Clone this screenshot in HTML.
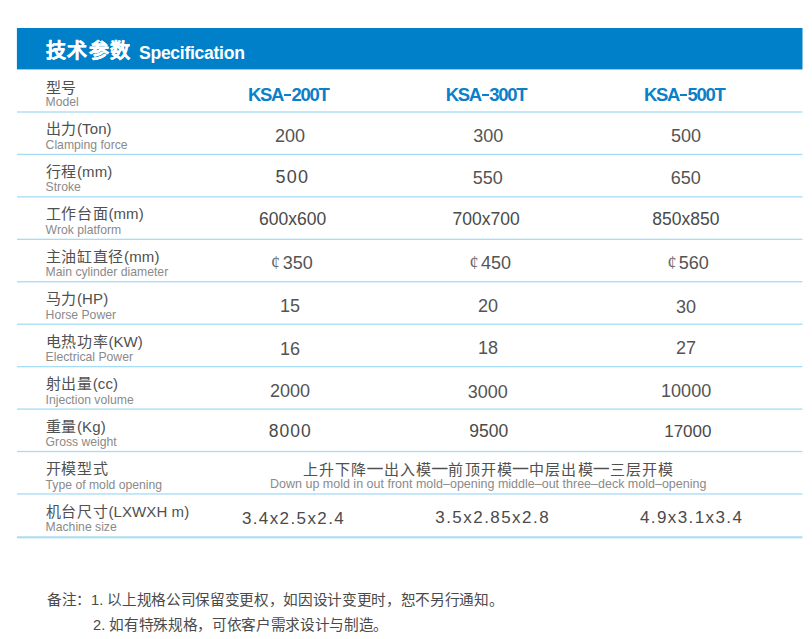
<!DOCTYPE html>
<html lang="zh-CN"><head><meta charset="utf-8">
<style>
*{margin:0;padding:0;box-sizing:border-box}
html,body{width:812px;height:639px;background:#fff;overflow:hidden}
body{position:relative;font-family:"Liberation Sans",sans-serif;color:#444}
.a{position:absolute;white-space:nowrap}
.hd{position:absolute;left:17px;top:28px;width:785.5px;height:41.6px;background:#0080c8}
.t1{font-size:20px;letter-spacing:1.5px;font-weight:bold;color:#fff;line-height:24px;-webkit-text-stroke:0.3px #fff}
.t2{font-size:17.6px;letter-spacing:-0.3px;font-weight:bold;color:#fff;line-height:20px}
.lines{position:absolute;left:0;top:0}
.c{font-size:15px;line-height:16px;color:#505050;letter-spacing:0.7px}
.c i{font-style:normal;letter-spacing:0.1px}
.e{font-size:12.2px;line-height:14px;color:#8a8a8a}
.v{line-height:20px;color:#545454}
.v.s{color:#4a4a4a}
.m{color:#0a80c8;font-weight:bold;font-size:18.5px;letter-spacing:-1.3px;line-height:20px}
.ct{font-family:"Liberation Serif",serif;font-size:18px;color:#6a6a6a;line-height:20px}
.dd{font-weight:normal;position:relative;top:-2.5px;-webkit-text-stroke:0.35px #505050}
.dsh{display:inline-block;width:7.2px;height:2px;background:#0a80c8;vertical-align:4.8px;margin:0 0.3px 0 0.9px}
.note{font-size:14.67px;letter-spacing:-0.33px;line-height:18px;color:#4a4a4a}
.note i{font-style:normal;letter-spacing:0}
</style></head><body>
<svg class="lines" width="812" height="639"><rect x="16.9" y="28" width="785.6" height="41.4" fill="#0080c8"/></svg>
<div class="a t1" id="t1" style="left:45.70px;top:38.50px">技术参数</div>
<div class="a t2" id="t2" style="left:139.00px;top:42.50px">Specification</div>
<svg class="lines" width="812" height="639" viewBox="0 0 812 639" fill="#a6dcf6"><rect x="17" y="111.35" width="785.4" height="1.3"/><rect x="17" y="153.79" width="785.4" height="1.3"/><rect x="17" y="196.23" width="785.4" height="1.3"/><rect x="17" y="238.67" width="785.4" height="1.3"/><rect x="17" y="281.11" width="785.4" height="1.3"/><rect x="17" y="323.55" width="785.4" height="1.3"/><rect x="17" y="365.99" width="785.4" height="1.3"/><rect x="17" y="408.43" width="785.4" height="1.3"/><rect x="17" y="450.87" width="785.4" height="1.3"/><rect x="17" y="493.31" width="785.4" height="1.3"/><rect x="17" y="536.3" width="785.4" height="2"/></svg>
<div class="a c" id="c0" style="left:45.60px;top:79.50px">型号</div>
<div class="a e" id="e0" style="left:45.60px;top:95.20px">Model</div>
<div class="a c" id="c1" style="left:45.60px;top:121.00px">出力<i>(Ton)</i></div>
<div class="a e" id="e1" style="left:45.60px;top:137.70px">Clamping force</div>
<div class="a c" id="c2" style="left:45.60px;top:163.50px">行程<i>(mm)</i></div>
<div class="a e" id="e2" style="left:45.60px;top:180.20px">Stroke</div>
<div class="a c" id="c3" style="left:45.60px;top:206.00px">工作台面<i>(mm)</i></div>
<div class="a e" id="e3" style="left:45.60px;top:222.70px">Wrok platform</div>
<div class="a c" id="c4" style="left:45.60px;top:248.50px">主油缸直径<i>(mm)</i></div>
<div class="a e" id="e4" style="left:45.60px;top:265.20px">Main cylinder diameter</div>
<div class="a c" id="c5" style="left:45.60px;top:291.00px">马力<i>(HP)</i></div>
<div class="a e" id="e5" style="left:45.60px;top:307.70px">Horse Power</div>
<div class="a c" id="c6" style="left:45.60px;top:333.50px">电热功率<i>(KW)</i></div>
<div class="a e" id="e6" style="left:45.60px;top:350.20px">Electrical Power</div>
<div class="a c" id="c7" style="left:45.60px;top:376.00px">射出量<i>(cc)</i></div>
<div class="a e" id="e7" style="left:45.60px;top:392.70px">Injection volume</div>
<div class="a c" id="c8" style="left:45.60px;top:418.50px">重量<i>(Kg)</i></div>
<div class="a e" id="e8" style="left:45.60px;top:435.20px">Gross weight</div>
<div class="a c" id="c9" style="left:45.60px;top:461.00px">开模型式</div>
<div class="a e" id="e9" style="left:45.60px;top:477.70px">Type of mold opening</div>
<div class="a c" id="c10" style="left:45.60px;top:503.50px">机台尺寸<i>(LXWXH m)</i></div>
<div class="a e" id="e10" style="left:45.60px;top:520.20px">Machine size</div>
<div class="a m" id="m0" style="left:247.90px;top:85.10px">KSA<span class=dsh></span>200T</div>
<div class="a m" id="m1" style="left:445.70px;top:85.10px">KSA<span class=dsh></span>300T</div>
<div class="a m" id="m2" style="left:644.00px;top:85.10px">KSA<span class=dsh></span>500T</div>
<div class="a v g" id="r1c1" style="left:274.90px;top:125.80px;font-size:18px;letter-spacing:0px">200</div>
<div class="a v g" id="r1c2" style="left:473.20px;top:125.80px;font-size:18px;letter-spacing:0px">300</div>
<div class="a v g" id="r1c3" style="left:671.00px;top:126.40px;font-size:18px;letter-spacing:0px">500</div>
<div class="a v s" id="r2c1" style="left:275.50px;top:166.70px;font-size:18px;letter-spacing:1.2px">500</div>
<div class="a v g" id="r2c2" style="left:472.80px;top:168.00px;font-size:18px;letter-spacing:0px">550</div>
<div class="a v g" id="r2c3" style="left:670.80px;top:168.40px;font-size:18px;letter-spacing:0px">650</div>
<div class="a v s" id="r3c1" style="left:259.00px;top:209.20px;font-size:17.5px;letter-spacing:0px">600x600</div>
<div class="a v s" id="r3c2" style="left:452.60px;top:209.10px;font-size:17.5px;letter-spacing:0px">700x700</div>
<div class="a v s" id="r3c3" style="left:652.30px;top:209.30px;font-size:17.5px;letter-spacing:0px">850x850</div>
<div class="a v g" id="r4c1" style="left:282.70px;top:253.30px;font-size:18px;letter-spacing:0px">350</div>
<div class="a v g" id="r4c2" style="left:481.10px;top:252.70px;font-size:18px;letter-spacing:0px">450</div>
<div class="a v g" id="r4c3" style="left:678.80px;top:252.80px;font-size:18px;letter-spacing:0px">560</div>
<div class="a v g" id="r5c1" style="left:280.00px;top:295.80px;font-size:18px;letter-spacing:0px">15</div>
<div class="a v g" id="r5c2" style="left:478.10px;top:296.40px;font-size:18px;letter-spacing:0px">20</div>
<div class="a v g" id="r5c3" style="left:676.10px;top:296.60px;font-size:18px;letter-spacing:0px">30</div>
<div class="a v g" id="r6c1" style="left:280.00px;top:338.80px;font-size:18px;letter-spacing:0px">16</div>
<div class="a v g" id="r6c2" style="left:478.00px;top:338.40px;font-size:18px;letter-spacing:0px">18</div>
<div class="a v g" id="r6c3" style="left:676.10px;top:338.30px;font-size:18px;letter-spacing:0px">27</div>
<div class="a v g" id="r7c1" style="left:269.90px;top:381.20px;font-size:18px;letter-spacing:0px">2000</div>
<div class="a v g" id="r7c2" style="left:467.80px;top:381.50px;font-size:18px;letter-spacing:0px">3000</div>
<div class="a v g" id="r7c3" style="left:661.10px;top:381.40px;font-size:18px;letter-spacing:0px">10000</div>
<div class="a v s" id="r8c1" style="left:268.80px;top:420.70px;font-size:17.5px;letter-spacing:1.0px">8000</div>
<div class="a v s" id="r8c2" style="left:469.30px;top:420.70px;font-size:17.5px;letter-spacing:0px">9500</div>
<div class="a v s" id="r8c3" style="left:664.20px;top:421.70px;font-size:17px;letter-spacing:0px">17000</div>
<div class="a v s" id="r10c1" style="left:241.90px;top:508.70px;font-size:17px;letter-spacing:1.4px">3.4x2.5x2.4</div>
<div class="a v s" id="r10c2" style="left:435.30px;top:508.10px;font-size:17px;letter-spacing:1.45px">3.5x2.85x2.8</div>
<div class="a v s" id="r10c3" style="left:640.00px;top:508.10px;font-size:17px;letter-spacing:1.4px">4.9x3.1x3.4</div>
<div class="a ct" id="r4c1x" style="left:271.10px;top:253.40px">¢</div>
<div class="a ct" id="r4c2x" style="left:469.40px;top:253.40px">¢</div>
<div class="a ct" id="r4c3x" style="left:667.60px;top:253.10px">¢</div>
<div class="a c" id="mo1" style="left:303.00px;top:461.50px;letter-spacing:1.15px">上升下降<b class=dd>—</b>出入模<b class=dd>—</b>前顶开模<b class=dd>—</b>中层出模<b class=dd>—</b>三层开模</div>
<div class="a e" id="mo2" style="left:270.00px;top:477.00px;font-size:12.5px">Down up mold in out front mold–opening middle–out three–deck mold–opening</div>
<div class="a note" id="n1" style="left:47.00px;top:591.00px">备注：<i>1. </i>以上规格公司保留变更权，如因设计变更时，恕不另行通知。</div>
<div class="a note" id="n2" style="left:93.00px;top:616.00px"><i>2. </i>如有特殊规格，可依客户需求设计与制造。</div>
</body></html>
